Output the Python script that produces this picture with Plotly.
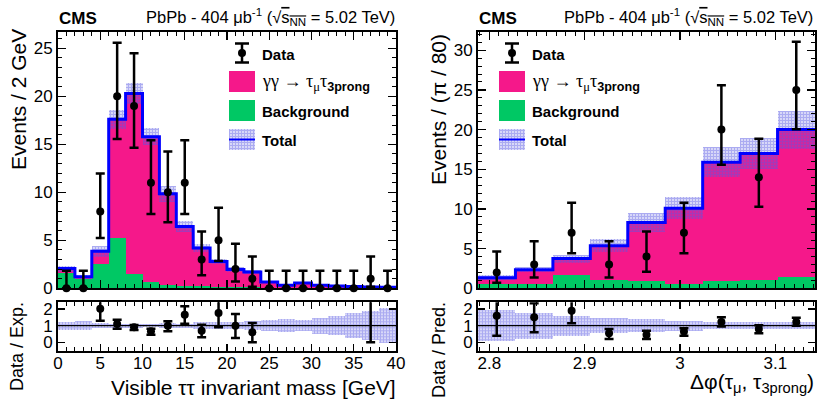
import plotly.graph_objects as go
import numpy as np

# ---------------- Left panel: visible tau-tau invariant mass ----------------
mass_edges = [0, 2, 4, 6, 8, 10, 12, 14, 16, 18, 20, 22, 24, 26, 28, 30, 32, 34, 36, 38, 40]
mass_centers = [1, 3, 5, 7, 9, 11, 13, 15, 17, 19, 21, 23, 25, 27, 29, 31, 33, 35, 37, 39]
data_L = [0, 0, 8, 20, 19, 11, 10, 11, 3, 5, 2, 1, 0, 0, 0, 0, 0, 0, 1, 0]
data_L_up = [1.84, 1.84, 3.95, 5.58, 5.49, 4.42, 4.26, 4.42, 2.92, 3.38, 2.64, 2.30,
             1.84, 1.84, 1.84, 1.84, 1.84, 1.84, 2.30, 1.84]
data_L_dn = [0, 0, 2.77, 4.44, 4.36, 3.26, 3.11, 3.26, 1.63, 2.16, 1.29, 0.83,
             0, 0, 0, 0, 0, 0, 0.83, 0]
sig_L = [0.45, 0.2, 1.35, 12.4, 18.8, 15.15, 9.55, 6.2, 4.0, 2.65, 1.83, 1.6,
         0.58, 0.23, 0.48, 0.24, 0.17, 0.14, 0.09, 0.05]
bkg_L = [1.6, 1.0, 2.5, 5.2, 1.5, 0.65, 0.3, 0.25, 0.2, 0.15, 0.12, 0.1,
         0.08, 0.08, 0.08, 0.07, 0.07, 0.06, 0.05, 0.05]
unc_L = [0.3, 0.2, 0.55, 1.0, 1.05, 0.9, 0.85, 0.6, 0.4, 0.3, 0.25, 0.22,
         0.15, 0.1, 0.12, 0.1, 0.1, 0.1, 0.08, 0.08]
runc_L = [0.24, 0.28, 0.15, 0.12, 0.12, 0.1, 0.15, 0.12, 0.2, 0.2, 0.2, 0.25,
          0.33, 0.37, 0.34, 0.48, 0.55, 0.73, 0.85, 1.05]
ratio_L_x = [5, 7, 9, 11, 13, 15, 17, 19, 21, 23, 37]
ratio_L = [2.02, 1.1, 0.9, 0.66, 1.0, 1.66, 0.7, 1.76, 1.0, 0.6, 3.5]
ratio_L_up = [1.0, 0.26, 0.14, 0.16, 0.26, 0.5, 0.36, 0.8, 0.7, 0.56, 3.0]
ratio_L_dn = [0.72, 0.28, 0.16, 0.2, 0.34, 0.54, 0.4, 0.86, 0.74, 0.6, 3.5]

# ---------------- Right panel: delta phi ----------------
phi_edges = [2.78816, 2.82743, 2.86670, 2.90597, 2.94524, 2.98451, 3.02378, 3.06305, 3.10232, 3.14159]
phi_centers = [2.80780, 2.84707, 2.88634, 2.92561, 2.96488, 3.00415, 3.04342, 3.08269, 3.12196]
data_R = [2, 3, 7, 3, 4, 7, 20, 14, 25]
data_R_up = [2.64, 2.92, 3.77, 2.92, 3.16, 3.77, 5.58, 4.86, 6.07]
data_R_dn = [1.29, 1.63, 2.58, 1.63, 1.91, 2.58, 4.44, 3.72, 4.97]
bkg_R = [0.6, 0.6, 1.62, 1.0, 0.9, 0.6, 0.9, 1.1, 1.46]
sig_R = [0.73, 1.75, 2.13, 4.37, 7.4, 9.5, 15.0, 15.9, 18.54]
unc_R = [0.3, 0.35, 0.5, 0.85, 1.15, 1.37, 1.9, 2.0, 2.4]
runc_R = [0.92, 0.77, 0.6, 0.44, 0.38, 0.29, 0.22, 0.21, 0.22]
ratio_R = [1.6, 1.5, 1.9, 0.55, 0.45, 0.65, 1.22, 0.8, 1.22]
ratio_R_up = [1.2, 0.85, 0.9, 0.25, 0.25, 0.2, 0.28, 0.22, 0.25]
ratio_R_dn = [1.2, 0.9, 0.75, 0.35, 0.25, 0.25, 0.27, 0.25, 0.22]

# ---------------- style ----------------
W, H = 818, 404
FONT = "Liberation Sans, Arial, Helvetica, sans-serif"
SERIF = "Liberation Serif, Times New Roman, serif"
PINK = "#f5188a"
GREEN = "#00c864"
BLUE = "#0000ff"
HATCH = dict(shape="+", fgcolor="#5858e4", bgcolor="rgba(0,0,0,0)", size=3,
             solidity=0.78, fillmode="overlay")


def px_x(p):
    return p / W


def px_y(p):
    return 1 - p / H


fig = go.Figure()


def add_panel(xa, ya, xra, yra, edges, centers, data, dup, ddn, sig, bkg, unc,
              runc, rx, rv, rup, rdn):
    edges = np.array(edges, float)
    widths = np.diff(edges)
    sig = np.array(sig, float)
    bkg = np.array(bkg, float)
    unc = np.array(unc, float)
    runc = np.array(runc, float)
    tot = sig + bkg
    fig.add_trace(go.Bar(x=centers, y=bkg, base=np.zeros_like(bkg), width=widths,
                         marker=dict(color=GREEN, line=dict(width=0)),
                         xaxis=xa, yaxis=ya, showlegend=False))
    fig.add_trace(go.Bar(x=centers, y=sig, base=bkg, width=widths,
                         marker=dict(color=PINK, line=dict(width=0)),
                         xaxis=xa, yaxis=ya, showlegend=False))
    fig.add_trace(go.Bar(x=centers, y=2 * unc, base=tot - unc, width=widths,
                         marker=dict(color="rgba(0,0,0,0)", line=dict(width=0), pattern=HATCH),
                         xaxis=xa, yaxis=ya, showlegend=False))
    fig.add_trace(go.Scatter(x=edges, y=list(tot) + [tot[-1]], mode="lines",
                             line=dict(color=BLUE, width=3, shape="hv"),
                             xaxis=xa, yaxis=ya, showlegend=False))
    fig.add_trace(go.Scatter(x=centers, y=data, mode="markers",
                             marker=dict(color="black", size=8),
                             error_y=dict(type="data", symmetric=False, array=dup, arrayminus=ddn,
                                          color="black", thickness=2.5, width=4.5),
                             cliponaxis=False, xaxis=xa, yaxis=ya, showlegend=False))
    fig.add_trace(go.Bar(x=centers, y=2 * runc, base=1 - runc, width=widths,
                         marker=dict(color="rgba(0,0,0,0)", line=dict(width=0), pattern=HATCH),
                         xaxis=xra, yaxis=yra, showlegend=False))
    fig.add_trace(go.Scatter(x=[edges[0], edges[-1]], y=[1, 1], mode="lines",
                             line=dict(color="black", width=1.3),
                             xaxis=xra, yaxis=yra, showlegend=False))
    fig.add_trace(go.Scatter(x=rx, y=rv, mode="markers",
                             marker=dict(color="black", size=8),
                             error_y=dict(type="data", symmetric=False, array=rup, arrayminus=rdn,
                                          color="black", thickness=2.5, width=4.5),
                             cliponaxis=True, xaxis=xra, yaxis=yra, showlegend=False))


add_panel("x", "y", "x2", "y2", mass_edges, mass_centers, data_L, data_L_up, data_L_dn,
          sig_L, bkg_L, unc_L, runc_L, ratio_L_x, ratio_L, ratio_L_up, ratio_L_dn)
add_panel("x3", "y3", "x4", "y4", phi_edges, phi_centers, data_R, data_R_up, data_R_dn,
          sig_R, bkg_R, unc_R, runc_R, phi_centers, ratio_R, ratio_R_up, ratio_R_dn)


# ---------------- legends (pixel coordinates on an overlay axis) ----------------
def add_legend(x0):
    fig.add_trace(go.Scatter(x=[x0 + 13], y=[53], mode="markers",
                             marker=dict(color="black", size=8),
                             error_y=dict(type="data", array=[9.5], color="black", thickness=2.5, width=7),
                             xaxis="x5", yaxis="y5", showlegend=False, cliponaxis=False))
    boxes = [(71, 92, PINK), (100, 121, GREEN)]
    for (t, b, c) in boxes:
        fig.add_trace(go.Scatter(x=[x0, x0 + 26, x0 + 26, x0, x0], y=[t, t, b, b, t],
                                 mode="lines", fill="toself", fillcolor=c, line=dict(width=0),
                                 xaxis="x5", yaxis="y5", showlegend=False))
    fig.add_trace(go.Scatter(x=[x0, x0 + 26, x0 + 26, x0, x0], y=[129, 129, 150, 150, 129],
                             mode="lines", fill="toself", fillcolor="rgba(0,0,0,0)",
                             fillpattern=HATCH, line=dict(width=0),
                             xaxis="x5", yaxis="y5", showlegend=False))
    fig.add_trace(go.Scatter(x=[x0, x0 + 26], y=[139.5, 139.5], mode="lines",
                             line=dict(color=BLUE, width=2),
                             xaxis="x5", yaxis="y5", showlegend=False))
    labels = [(54, "<b>Data</b>", 15, FONT),
              (82, "γγ → τ<sub>μ</sub>τ<sub><b><span style=\"font-family:Liberation Sans\">3prong</span></b></sub>", 18, SERIF),
              (111, "<b>Background</b>", 15, FONT),
              (140, "<b>Total</b>", 15, FONT)]
    for (yy, txt, fs, fam) in labels:
        fig.add_annotation(x=x0 + 31, y=yy, xref="x5", yref="y5", text=txt, showarrow=False,
                           xanchor="left", yanchor="middle",
                           font=dict(family=fam, size=fs, color="black"))


add_legend(229)
add_legend(499)

# ---------------- headers and titles ----------------
header = ("PbPb - 404 μb<sup>-1</sup> (√<span style=\"text-decoration:overline\">s<sub>NN</sub></span>"
          " = 5.02 TeV)")
for (xl, xr) in [(57, 397), (477, 815)]:
    fig.add_annotation(x=xl, y=18, xref="x5", yref="y5", text="<b>CMS</b>", showarrow=False,
                       xanchor="left", yanchor="middle", font=dict(family=FONT, size=17, color="black"))
    fig.add_annotation(x=xr, y=17, xref="x5", yref="y5", text=header, showarrow=False,
                       xanchor="right", yanchor="middle", font=dict(family=FONT, size=16.5, color="black"))

titles = [
    (18, 100, "Events / 2 GeV", 21),
    (17, 347, "Data / Exp.", 18),
    (438, 110, "Events / (π / 80)", 21),
    (439, 350, "Data / Pred.", 18),
]
for (xx, yy, txt, fs) in titles:
    fig.add_annotation(x=xx, y=yy, xref="x5", yref="y5", text=txt, showarrow=False,
                       textangle=-90, xanchor="center", yanchor="middle",
                       font=dict(family=FONT, size=fs, color="black"))

fig.add_annotation(x=398, y=387, xref="x5", yref="y5", text="Visible ττ invariant mass [GeV]",
                   showarrow=False, xanchor="right", yanchor="middle",
                   font=dict(family=FONT, size=21, color="black"))
fig.add_annotation(x=816, y=383, xref="x5", yref="y5",
                   text="Δφ(τ<sub>μ</sub>, τ<sub>3prong</sub>)",
                   showarrow=False, xanchor="right", yanchor="middle",
                   font=dict(family=FONT, size=21, color="black"))

# ---------------- axes ----------------
TICKFONT = dict(family=FONT, size=17, color="black")


def ax(domain, rng, dtick, minor, labels, ticklen=8, anchor=None, tickvals=None, ticktext=None,
       standoff=None):
    d = dict(domain=domain, range=rng, showline=True, linecolor="black", linewidth=2,
             mirror="ticks", ticks="inside", ticklen=ticklen, tickwidth=1.3, tickcolor="black",
             showgrid=False, zeroline=False, showticklabels=labels, tickfont=TICKFONT,
             anchor=anchor, fixedrange=True, automargin=False)
    if standoff is not None:
        d["ticklabelstandoff"] = standoff
    if tickvals is not None:
        d["tickmode"] = "array"
        d["tickvals"] = tickvals
        if ticktext is not None:
            d["ticktext"] = ticktext
    else:
        d["dtick"] = dtick
        d["tick0"] = 0
    if minor is not None:
        d["minor"] = dict(dtick=minor, tick0=0, ticks="inside", ticklen=ticklen / 2,
                          tickwidth=1, tickcolor="black", showgrid=False)
    return d


xL = [px_x(58), px_x(396)]
xR = [px_x(478), px_x(815)]
yM = [px_y(288.3), px_y(32)]
yRt = [px_y(350.7), px_y(302.3)]

fig.update_layout(
    width=W, height=H, autosize=False,
    margin=dict(l=0, r=0, t=0, b=0, pad=0, autoexpand=False),
    paper_bgcolor="white", plot_bgcolor="rgba(0,0,0,0)",
    barmode="overlay", bargap=0,
    showlegend=False,
    xaxis=ax(xL, [0, 40], 5, 1, False, anchor="y"),
    yaxis=ax(yM, [0, 26.7], 5, 1, True, anchor="x"),
    xaxis2=ax(xL, [0, 40], 5, 1, True, ticklen=7, anchor="y2", standoff=-4),
    yaxis2=ax(yRt, [-0.5, 2.4], None, None, True, ticklen=7, anchor="x2", tickvals=[0, 1, 2]),
    xaxis3=ax(xR, [phi_edges[0], phi_edges[-1]], 0.1, 0.01, False, anchor="y3"),
    yaxis3=ax(yM, [0, 32.3], 5, 1, True, anchor="x3"),
    xaxis4=ax(xR, [phi_edges[0], phi_edges[-1]], None, 0.01, True, ticklen=7, anchor="y4",
              tickvals=[2.8, 2.9, 3.0, 3.1], ticktext=["2.8", "2.9", "3", "3.1"], standoff=-4),
    yaxis4=ax(yRt, [-0.5, 2.4], None, None, True, ticklen=7, anchor="x4", tickvals=[0, 1, 2]),
    xaxis5=dict(domain=[0, 1], range=[0, W], visible=False, anchor="y5", fixedrange=True,
                automargin=False),
    yaxis5=dict(domain=[0, 1], range=[H, 0], visible=False, anchor="x5", fixedrange=True,
                automargin=False),
)

fig.write_html("out.html", config={"displayModeBar": False, "staticPlot": True},
               post_script="document.body.style.margin='0';document.body.style.overflow='hidden';")
